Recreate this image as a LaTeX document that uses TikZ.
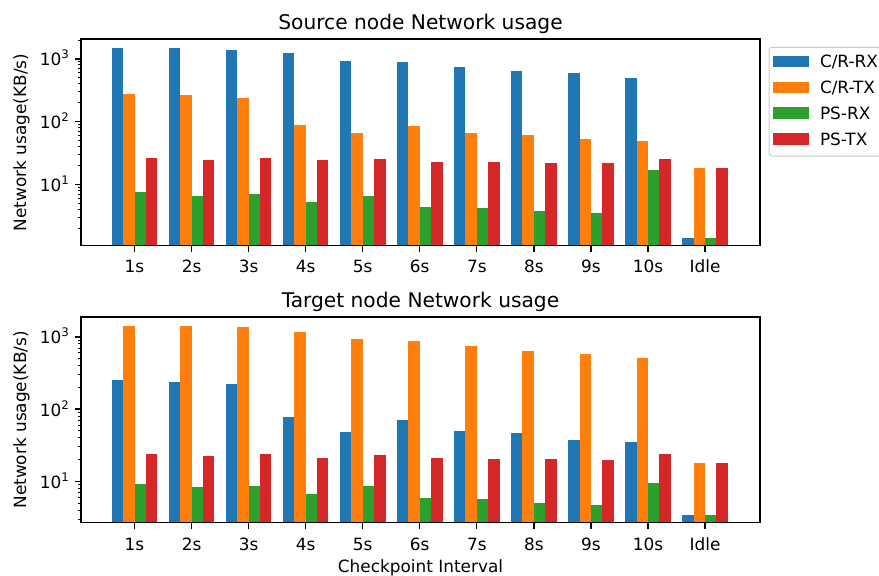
\documentclass[tikz,border=0pt]{standalone}
\usepackage{fontspec}
\setmainfont{DejaVu Sans}
\definecolor{cRX}{HTML}{1F77B4}
\definecolor{cTX}{HTML}{FF7F0E}
\definecolor{pRX}{HTML}{2CA02C}
\definecolor{pTX}{HTML}{D62728}
\definecolor{legedge}{gray}{0.8}
\newcommand\ticklabelfont{\fontsize{16.9}{20}\selectfont}
\newcommand\plottitlefont{\fontsize{20.2}{24}\selectfont}
\newcommand\supnum[1]{10\raisebox{0.42em}{\fontsize{11.8}{12}\selectfont #1}}
% #1 color, #2 left offset from group centre, #3 axis bottom, #4 list of bar tops
\newcommand\barrow[4]{%
  \foreach \v [count=\i from 0] in {#4} {
    \fill[#1] ({134.5+57.05*\i+#2},#3) rectangle ({134.5+57.05*\i+#2+11.4},\v);
  }}
% #1 prefix, #2 y of 10^1, #3 decade px, #4 axis top, #5 axis bottom
\newcommand\logticks[5]{%
  \foreach \e in {1,2,3} {
    \draw[majtick] (81,{#2-#3*(\e-1)}) -- ++(-5.9,0);
    \node[tl,anchor=base east] (#1yl\e) at (69.2,{#2-#3*(\e-1)+7}) {\supnum{\e}};
  }
  \foreach \d in {0,1,2,3} {
    \foreach \k in {2,...,9} {
      \pgfmathsetmacro\yy{#2-#3*(\d+log10(\k)-1)}
      \ifdim\yy pt>#4pt \ifdim\yy pt<#5pt
        \draw[mintick] (81,\yy) -- ++(-3.4,0);
      \fi\fi
    }
  }}
% #1 prefix, #2 axis bottom, #3 label baseline
\newcommand\xticks[3]{%
  \foreach \l [count=\i from 0] in {1s,2s,3s,4s,5s,6s,7s,8s,9s,10s,Idle} {
    \draw[majtick] ({134.5+57.05*\i},#2) -- ++(0,5.9);
    \node[tl,anchor=base] (#1xl\i) at ({134.5+57.05*\i},#3) {\l};
  }}
\begin{document}
\begin{tikzpicture}[x=1pt,y=-1pt,
  tl/.style={font=\ticklabelfont, inner sep=0pt, text=black},
  spine/.style={line width=1.34pt, line cap=rect},
  majtick/.style={line width=1.34pt},
  mintick/.style={line width=1pt},
  legpatch/.style={draw=none}]
\useasboundingbox (0,0) rectangle (879,576);
\clip (0,0) rectangle (879,576);
\fill[white] (0,0) rectangle (879,576);

% ---------- top plot ----------
\barrow{cRX}{-22.8}{245.7}{48.3,48.3,49.7,53.3,60.7,62,67,70.7,73,78,237.7}
\barrow{cTX}{-11.4}{245.7}{94,95.3,97.7,124.7,133.3,125.7,133.3,134.7,139.3,140.7,167.7}
\barrow{pRX}{0}{245.7}{192.3,196,193.7,202,196,207.3,208.3,210.7,213.3,170.3,237.7}
\barrow{pTX}{11.4}{245.7}{157.7,160.3,157.7,160.3,159.3,161.7,161.7,162.7,162.7,159.3,167.7}
\draw[spine] (81,39) rectangle (760,245.7);
\logticks{a}{184.3}{62.7}{39}{245.7}
\xticks{a}{245.7}{272.5}
\node[font=\plottitlefont, anchor=base, inner sep=0pt] (titleA) at (420.5,29) {Source node Network usage};
\node[tl, rotate=90, anchor=base] (ylabA) at (26,142.4) {Network usage(KB/s)};

% legend
\draw[legedge, fill=white, fill opacity=0.8, rounded corners=3pt, line width=1pt] (769,47.3) rectangle (905,156);
\foreach \c/\t/\yc [count=\j] in {cRX/C\slash R-RX/61.5, cTX/C\slash R-TX/87.5, pRX/PS-RX/113.3, pTX/PS-TX/139} {
  \fill[\c] (773.3,\yc-5.9) rectangle (809,\yc+5.9);
  \node[tl, anchor=base west] (leg\j) at (819.8,\yc+6.2) {\t};
}

% ---------- bottom plot ----------
\barrow{cRX}{-22.8}{522.7}{380.3,381.7,384,417.3,431.7,419.7,430.7,433.3,440.3,441.7,515.3}
\barrow{cTX}{-11.4}{522.7}{326.3,326.3,327.3,332.3,339.3,341,345.7,350.7,354.3,358,462.7}
\barrow{pRX}{0}{522.7}{483.7,487,486,494.3,486,498.3,499.3,503.3,505.3,483.3,515.3}
\barrow{pTX}{11.4}{522.7}{454,456.3,454,457.7,455.3,457.7,459,459,460.3,454,462.7}
\draw[spine] (81,317) rectangle (760,522.7);
\logticks{b}{481.3}{72.2}{317}{522.7}
\xticks{b}{522.7}{550}
\node[font=\plottitlefont, anchor=base, inner sep=0pt] (titleB) at (420.5,307.7) {Target node Network usage};
\node[tl, rotate=90, anchor=base] (ylabB) at (26,419.9) {Network usage(KB/s)};
\node[tl, anchor=base] (xlab) at (420.5,572.5) {Checkpoint Interval};
\end{tikzpicture}
\end{document}
